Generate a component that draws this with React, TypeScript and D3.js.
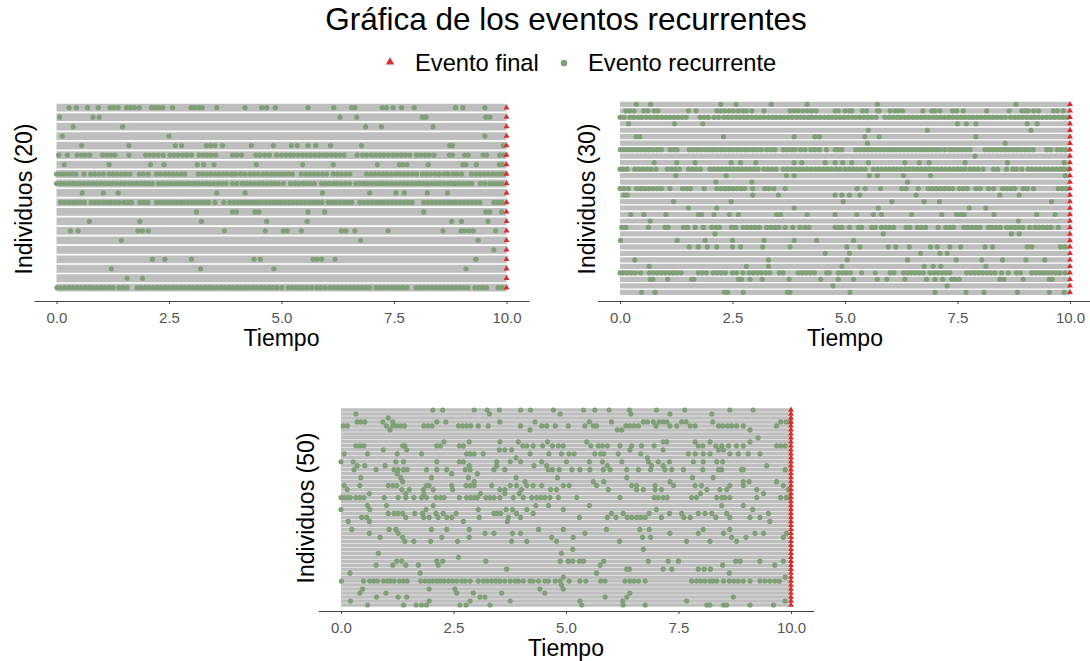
import { useEffect, useRef } from 'react';
import * as d3 from 'd3';

const WIDTH = 1090;
const HEIGHT = 661;

const titulo = 'Gráfica de los eventos recurrentes';
const leyenda = ['Evento final', 'Evento recurrente'];
const xTicks = [0, 2.5, 5, 7.5, 10];
const tiempoFinal = 10;

// Recurrent event times per individual (top row first)
const eventos20 = [
  [0.28, 0.44, 0.69, 0.93, 1.19, 1.27, 1.37, 1.56, 1.64, 1.73, 1.84, 2.11, 2.19, 2.27, 2.36, 2.58, 2.99, 3.07, 3.16, 3.24, 3.56, 4.19, 4.56, 4.67, 4.86, 5.59, 6.16, 6.56, 6.63, 7.24, 7.33, 7.48, 7.67, 7.95, 8.87, 9.03, 9.52],
  [0.07, 0.81, 0.95, 6.3, 6.67, 8.13, 8.21, 9.54, 9.63],
  [0.37, 1.47, 6.87, 7.22, 8.37],
  [0.13, 2.5, 9.52],
  [0.56, 1.61, 2.64, 2.78, 3.33, 3.42, 3.52, 3.69, 4.33, 4.82, 5.22, 5.35, 5.59, 5.76, 6.09, 6.78, 8.74, 8.8, 9.93],
  [0.05, 0.24, 0.46, 0.56, 0.64, 0.74, 1.02, 1.11, 1.21, 1.3, 1.61, 1.98, 2.07, 2.16, 2.26, 2.37, 2.52, 2.61, 2.7, 2.8, 2.89, 3.0, 3.17, 3.26, 3.35, 3.44, 3.54, 3.91, 4.0, 4.11, 4.43, 4.52, 4.63, 4.73, 4.89, 5.0, 5.1, 5.19, 5.27, 5.37, 5.47, 5.56, 5.64, 5.74, 5.84, 5.93, 6.01, 6.11, 6.21, 6.3, 6.39, 6.68, 6.8, 6.89, 7.0, 7.1, 7.19, 7.27, 7.37, 7.48, 7.57, 7.67, 7.76, 7.85, 8.0, 8.09, 8.19, 8.28, 8.39, 8.73, 8.8, 9.07, 9.15, 9.48, 9.56, 9.85, 9.93],
  [0.17, 1.17, 2.09, 2.39, 3.13, 3.27, 3.5, 4.44, 5.47, 6.15, 7.13, 7.62, 7.7, 7.79, 8.26, 9.03, 9.1, 9.33, 9.84, 9.91],
  [0.0, 0.07, 0.16, 0.26, 0.35, 0.43, 0.61, 0.76, 0.85, 0.95, 1.04, 1.17, 1.26, 1.35, 1.44, 1.54, 1.63, 1.84, 1.93, 2.04, 2.22, 2.31, 2.41, 2.5, 2.59, 2.68, 2.78, 2.85, 3.15, 3.24, 3.33, 3.42, 3.52, 3.61, 3.7, 3.79, 3.89, 3.98, 4.09, 4.19, 4.3, 4.39, 4.48, 4.59, 4.68, 4.78, 4.87, 4.96, 5.05, 5.15, 5.24, 5.44, 5.54, 5.63, 5.72, 5.81, 5.91, 6.0, 6.15, 6.24, 6.33, 6.43, 6.52, 6.89, 6.98, 7.07, 7.17, 7.26, 7.35, 7.44, 7.54, 7.63, 7.72, 7.81, 7.91, 8.0, 8.13, 8.22, 8.31, 8.41, 8.5, 8.61, 8.7, 8.81, 8.9, 9.0, 9.22, 9.32, 9.41, 9.5, 9.59, 9.69, 9.78, 9.87, 9.93],
  [0.0, 0.09, 0.18, 0.27, 0.36, 0.44, 0.53, 0.62, 0.71, 0.8, 0.89, 0.98, 1.07, 1.16, 1.24, 1.33, 1.42, 1.51, 1.6, 1.69, 1.78, 1.87, 1.96, 2.04, 2.13, 2.26, 2.35, 2.44, 2.53, 2.61, 2.7, 2.79, 2.88, 2.97, 3.06, 3.15, 3.24, 3.33, 3.41, 3.5, 3.59, 3.68, 3.77, 3.91, 4.01, 4.13, 4.22, 4.31, 4.4, 4.49, 4.58, 4.67, 4.76, 4.84, 4.93, 5.04, 5.2, 5.29, 5.38, 5.47, 5.56, 5.64, 5.73, 5.89, 5.98, 6.07, 6.16, 6.24, 6.33, 6.42, 6.51, 6.65, 6.74, 6.83, 6.92, 7.01, 7.1, 7.19, 7.27, 7.36, 7.45, 7.54, 7.63, 7.72, 7.81, 7.9, 7.99, 8.07, 8.16, 8.25, 8.34, 8.43, 8.52, 8.61, 8.7, 8.79, 8.87, 8.96, 9.05, 9.14, 9.23, 9.42, 9.52, 9.63, 9.72, 9.81, 9.9],
  [0.57, 1.04, 1.37, 3.56, 4.19, 5.91, 6.96, 7.54, 7.73, 8.24, 8.69],
  [0.09, 0.18, 0.27, 0.36, 0.44, 0.53, 0.62, 0.77, 0.86, 0.95, 1.04, 1.13, 1.21, 1.3, 1.39, 1.5, 1.59, 1.67, 1.85, 1.94, 2.03, 2.22, 2.31, 2.4, 2.49, 2.58, 2.67, 2.76, 2.84, 2.93, 3.02, 3.11, 3.2, 3.29, 3.38, 3.52, 3.72, 3.85, 3.94, 4.03, 4.12, 4.21, 4.3, 4.39, 4.47, 4.56, 4.65, 4.74, 4.83, 4.92, 4.99, 5.08, 5.17, 5.26, 5.35, 5.44, 5.53, 5.63, 5.72, 5.81, 5.9, 6.04, 6.13, 6.21, 6.3, 6.39, 6.47, 6.56, 6.74, 6.83, 6.92, 7.01, 7.1, 7.19, 7.27, 7.36, 7.45, 7.54, 7.63, 7.72, 7.81, 7.9, 8.16, 8.25, 8.34, 8.43, 8.52, 8.61, 8.7, 8.79, 8.87, 8.96, 9.05, 9.14, 9.23, 9.32, 9.41, 9.72, 9.81, 9.9],
  [3.11, 3.91, 4.0, 4.41, 4.5, 5.59, 5.96, 8.16, 9.54, 9.63, 9.89],
  [0.73, 1.85, 3.22, 4.67, 5.57, 8.78, 9.0, 9.59],
  [0.31, 0.48, 1.81, 1.91, 2.04, 3.73, 4.64, 5.04, 5.13, 5.44, 6.33, 6.43, 6.63, 7.37, 8.59, 8.99, 9.07, 9.17, 9.26, 9.76],
  [1.44, 6.76, 9.37],
  [9.72],
  [2.13, 2.41, 3.0, 4.39, 4.53, 5.7, 5.79, 5.89, 6.19, 9.32],
  [1.22, 3.2, 4.83, 9.1],
  [1.57, 1.91],
  [0.01, 0.1, 0.19, 0.28, 0.37, 0.46, 0.55, 0.64, 0.73, 0.81, 0.9, 0.99, 1.08, 1.17, 1.26, 1.39, 1.48, 1.57, 1.79, 1.87, 1.96, 2.05, 2.14, 2.23, 2.32, 2.41, 2.5, 2.59, 2.67, 2.76, 2.85, 2.94, 3.03, 3.12, 3.21, 3.3, 3.39, 3.47, 3.56, 3.65, 3.74, 3.83, 3.92, 4.01, 4.1, 4.19, 4.27, 4.36, 4.45, 4.54, 4.63, 4.72, 4.81, 4.9, 5.01, 5.15, 5.24, 5.33, 5.41, 5.48, 5.57, 5.67, 5.78, 5.87, 5.96, 6.07, 6.16, 6.25, 6.34, 6.43, 6.52, 6.61, 6.7, 6.79, 6.87, 6.96, 7.1, 7.19, 7.27, 7.36, 7.45, 7.52, 7.61, 7.7, 7.79, 7.99, 8.07, 8.16, 8.25, 8.34, 8.43, 8.52, 8.61, 8.7, 8.79, 8.87, 8.96, 9.05, 9.14, 9.3, 9.39, 9.47, 9.56, 9.81, 9.9],
];

const eventos30 = [
  [0.36, 0.68, 2.24, 2.58, 3.36, 4.16, 5.72, 8.8],
  [0.13, 0.22, 0.31, 0.53, 0.62, 0.76, 0.84, 1.52, 1.69, 2.15, 2.24, 2.33, 2.43, 2.52, 2.63, 2.73, 2.81, 2.93, 3.2, 3.78, 3.87, 3.96, 4.06, 4.16, 4.26, 4.36, 4.78, 4.85, 5.0, 5.1, 5.15, 5.39, 5.48, 5.72, 5.76, 6.0, 6.11, 6.19, 6.28, 6.73, 6.93, 7.0, 7.11, 7.39, 7.48, 7.63, 8.15, 8.65, 8.93, 9.0, 9.07, 9.19, 9.3, 9.63, 9.72, 9.85],
  [0.0, 0.09, 0.22, 0.31, 0.41, 0.48, 0.58, 0.67, 0.76, 0.84, 0.93, 1.02, 1.11, 1.2, 1.29, 1.38, 1.47, 1.78, 1.87, 1.96, 2.09, 2.19, 2.31, 2.4, 2.49, 2.58, 2.67, 2.76, 2.84, 2.93, 3.02, 3.11, 3.2, 3.3, 3.39, 3.47, 3.56, 3.65, 3.74, 3.83, 3.92, 4.01, 4.1, 4.19, 4.27, 4.36, 4.45, 4.54, 4.63, 4.71, 4.8, 4.89, 4.98, 5.07, 5.16, 5.24, 5.33, 5.42, 5.51, 5.6, 5.69, 5.89, 5.98, 6.07, 6.16, 6.24, 6.33, 6.42, 6.51, 6.6, 6.69, 6.78, 6.87, 6.96, 7.04, 7.13, 7.22, 7.31, 7.4, 7.49, 7.58, 7.67, 7.76, 7.84, 7.93, 8.02, 8.11, 8.2, 8.29, 8.38, 8.47, 8.56, 8.68, 8.77, 8.86, 8.95, 9.04, 9.13, 9.21, 9.3, 9.39, 9.48, 9.57, 9.66, 9.75, 9.84, 9.93],
  [0.19, 1.21, 1.84, 7.5, 7.7, 7.91, 9.05, 9.27],
  [5.52, 6.83, 9.13],
  [0.36, 0.44, 2.3, 3.87, 4.33, 4.43, 5.44, 5.76, 7.91],
  [5.5, 8.56],
  [0.01, 0.1, 0.19, 0.28, 0.37, 0.46, 0.55, 0.64, 0.73, 0.83, 0.92, 1.11, 1.2, 1.27, 1.54, 1.63, 1.72, 1.81, 1.9, 1.99, 2.07, 2.16, 2.25, 2.34, 2.43, 2.52, 2.61, 2.7, 2.79, 2.87, 2.96, 3.05, 3.14, 3.26, 3.35, 3.44, 3.63, 3.72, 3.81, 3.89, 4.01, 4.11, 4.24, 4.33, 4.43, 4.59, 4.78, 4.85, 4.93, 5.24, 5.33, 5.42, 5.51, 5.6, 5.69, 5.78, 5.87, 5.96, 6.04, 6.13, 6.22, 6.31, 6.4, 6.49, 6.58, 6.67, 6.76, 6.84, 6.93, 7.02, 7.11, 7.22, 7.33, 7.42, 7.51, 7.6, 7.69, 7.78, 8.11, 8.2, 8.29, 8.38, 8.47, 8.56, 8.64, 8.73, 8.82, 8.91, 9.0, 9.09, 9.18, 9.48, 9.57, 9.72, 9.81, 9.9],
  [7.89],
  [0.76, 1.26, 1.67, 2.47, 2.68, 3.02, 3.87, 4.04, 4.56, 4.78, 4.95, 5.15, 5.52, 6.33, 6.65, 6.87, 7.67, 8.61, 9.87],
  [0.0, 0.07, 0.16, 0.33, 0.42, 0.51, 0.6, 0.69, 0.8, 1.05, 1.14, 1.23, 1.32, 1.52, 1.61, 1.7, 1.79, 2.0, 2.09, 2.18, 2.27, 2.36, 2.44, 2.53, 2.62, 2.71, 2.8, 2.89, 2.98, 3.07, 3.2, 3.29, 3.38, 3.47, 3.63, 3.72, 3.81, 3.9, 3.99, 4.07, 4.16, 4.25, 4.34, 4.43, 4.52, 4.61, 4.7, 4.8, 4.89, 5.0, 5.09, 5.18, 5.27, 5.36, 5.45, 5.63, 5.72, 5.81, 5.9, 5.99, 6.07, 6.16, 6.25, 6.34, 6.43, 6.52, 6.61, 6.7, 6.79, 6.87, 6.96, 7.05, 7.14, 7.23, 7.32, 7.41, 7.5, 7.58, 7.67, 7.78, 7.87, 7.96, 8.07, 8.3, 8.39, 8.59, 8.73, 8.81, 8.93, 9.07, 9.16, 9.25, 9.34, 9.43, 9.52, 9.61, 9.7, 9.79, 9.87, 9.96],
  [1.24, 2.36, 3.7, 3.87, 5.54, 5.72, 6.3, 6.9, 9.89],
  [2.13, 2.93, 6.39],
  [0.0, 0.09, 0.19, 0.37, 0.46, 0.55, 0.64, 0.73, 0.83, 0.92, 1.11, 1.39, 1.48, 1.57, 1.87, 2.15, 2.24, 2.33, 2.41, 2.5, 2.59, 2.68, 2.77, 2.95, 3.22, 3.31, 3.42, 3.67, 5.27, 5.45, 5.79, 6.26, 6.36, 6.63, 6.85, 6.94, 7.03, 7.12, 7.21, 7.3, 7.39, 7.54, 7.63, 7.72, 7.91, 8.0, 8.19, 8.3, 8.5, 8.59, 8.68, 8.77, 8.96, 9.05, 9.19, 9.74, 9.83, 9.92],
  [0.09, 0.16, 2.95, 3.52, 4.78, 4.93, 5.1, 5.33, 6.58, 8.44, 8.87],
  [1.19, 2.47, 4.96, 6.04, 6.76, 7.1, 9.59],
  [1.52, 2.15, 3.87, 5.74, 7.76, 8.13],
  [0.24, 0.53, 1.02, 1.74, 1.81, 2.09, 2.43, 2.63, 3.48, 3.57, 4.16, 4.78, 5.26, 5.63, 5.81, 6.48, 7.15, 7.48, 7.57, 7.65, 8.31, 9.26, 9.67],
  [0.67, 8.85],
  [0.04, 0.13, 0.63, 1.0, 1.07, 1.41, 1.5, 1.67, 1.85, 2.04, 2.13, 2.21, 2.48, 2.57, 2.74, 2.83, 2.92, 3.01, 3.1, 3.26, 3.35, 3.44, 3.53, 3.67, 3.84, 4.0, 4.11, 4.2, 4.78, 4.85, 4.93, 5.1, 5.3, 5.37, 5.59, 5.67, 5.81, 5.9, 5.99, 6.08, 6.36, 6.44, 6.61, 6.7, 6.79, 7.07, 7.24, 7.33, 7.41, 7.64, 7.73, 7.82, 7.91, 8.0, 8.19, 8.27, 8.36, 8.45, 8.59, 8.68, 8.77, 8.86, 8.95, 9.1, 9.22, 9.31, 9.4, 9.49, 9.58, 9.74],
  [2.11, 5.85, 8.7, 8.87],
  [0.01, 1.27, 1.89, 2.5, 3.2, 3.87, 4.37, 5.19],
  [1.54, 1.74, 1.94, 2.15, 2.5, 2.68, 3.17, 3.78, 5.04, 5.33, 5.96, 6.13, 6.43, 6.9, 7.05, 7.33, 7.57, 8.11, 8.28, 9.05, 9.15, 9.79, 9.89],
  [4.56, 5.1, 6.68, 7.11, 7.27],
  [0.33, 3.3, 5.05, 6.39, 7.47, 8.04, 8.5, 9.02, 9.44],
  [0.65, 2.81, 3.3, 4.93, 6.76, 6.96, 7.13, 8.13],
  [0.0, 0.07, 0.16, 0.25, 0.34, 0.46, 0.65, 0.74, 0.83, 0.92, 1.01, 1.1, 1.19, 1.27, 1.36, 1.74, 1.83, 1.92, 2.07, 2.16, 2.25, 2.34, 2.5, 2.59, 2.73, 2.87, 2.96, 3.05, 3.14, 3.24, 3.33, 3.54, 3.63, 3.96, 4.05, 4.14, 4.23, 4.32, 4.59, 4.65, 4.85, 4.94, 5.03, 5.12, 5.37, 5.67, 6.0, 6.09, 6.3, 6.39, 6.47, 6.56, 6.65, 6.74, 6.89, 6.98, 7.07, 7.16, 7.24, 7.33, 7.7, 7.79, 7.88, 7.97, 8.06, 8.15, 8.24, 8.33, 8.48, 8.63, 8.81, 8.9, 9.15, 9.24, 9.33, 9.41, 9.5, 9.59, 9.68, 9.77, 9.89],
  [0.67, 0.73, 1.06, 1.59, 1.64, 2.63, 2.7, 2.89, 3.16, 3.76, 4.46, 4.85, 5.19, 5.72, 5.93, 6.33, 6.81, 7.0, 7.17, 7.37, 7.44, 7.54, 8.44, 8.53, 8.96, 9.54, 9.61],
  [4.73, 7.27],
  [0.48, 0.78, 2.32, 2.39, 2.74, 3.72, 3.78, 5.11, 7.0, 7.69, 8.09, 8.83, 9.54, 9.87],
];

const eventos50 = [
  [2.04, 2.26, 2.96, 3.25, 3.52, 3.99, 4.21, 4.72, 5.39, 5.64, 5.96, 6.41, 7.01, 7.64, 8.64, 9.16],
  [0.33, 3.3, 4.87, 6.44, 7.31, 8.24],
  [1.05],
  [0.36, 0.44, 0.53, 0.93, 1.15, 2.13, 2.33, 3.53, 4.31, 5.52, 6.01, 6.72, 6.81, 6.94, 7.07, 7.16, 7.24, 7.57, 7.67, 8.26, 9.77, 9.89, 9.98],
  [0.05, 0.14, 1.01, 1.15, 1.24, 1.33, 1.41, 1.84, 1.93, 2.02, 2.61, 2.7, 2.79, 2.88, 3.05, 3.27, 3.99, 4.46, 4.57, 4.76, 5.05, 5.42, 5.61, 5.68, 6.33, 6.42, 6.51, 6.61, 7.0, 7.31, 7.46, 7.76, 7.87, 8.39, 8.48, 8.59, 8.68, 8.79, 8.94, 9.68],
  [1.09, 4.2, 6.14, 6.24, 9.09],
  [],
  [9.27],
  [2.29, 2.85, 3.53, 3.94, 4.59, 5.46, 7.16, 7.24, 7.87, 8.2, 9.09],
  [0.33, 0.42, 0.51, 1.37, 1.42, 2.13, 2.21, 2.63, 2.72, 4.04, 4.13, 4.27, 4.48, 4.7, 4.83, 4.94, 5.55, 5.72, 5.81, 5.92, 6.2, 6.46, 6.68, 6.96, 7.94, 8.04, 8.33, 8.46, 8.61, 8.79, 8.94, 9.68, 9.77, 9.87],
  [0.94, 1.46, 3.52, 3.64, 3.79, 6.42, 7.16, 8.39, 8.5],
  [0.07, 0.59, 1.25, 1.79, 2.79, 2.87, 2.96, 3.16, 4.2, 4.62, 4.9, 5.07, 5.18, 5.64, 5.77, 5.84, 6.16, 6.66, 7.72, 7.87, 8.05, 8.2, 8.64, 8.83, 9.05, 9.31],
  [3.89, 6.81],
  [0.0, 0.27, 1.22, 1.39, 2.13, 2.63, 2.72, 3.46, 3.76, 3.99, 4.46, 5.01, 5.52, 5.81, 6.24, 6.83, 7.05, 7.3, 7.83, 8.05, 8.35, 8.48],
  [0.36, 0.53, 0.98, 2.85, 3.46, 4.29, 4.57, 5.92, 6.9, 7.16, 9.46],
  [0.29, 0.78, 1.18, 1.27, 1.39, 1.47, 1.9, 2.13, 2.35, 2.76, 2.87, 3.4, 3.64, 4.61, 4.7, 4.85, 5.13, 5.31, 5.53, 5.83, 5.98, 6.35, 6.61, 6.88, 7.2, 7.35, 7.61, 8.04, 8.39, 8.46, 8.9, 8.94, 9.87],
  [1.25, 2.46, 3.03],
  [0.44, 1.33, 2.01, 2.83, 3.89, 4.81, 6.35, 7.81, 8.27],
  [1.37, 2.96, 4.09, 5.61, 5.84, 7.31, 8.94, 9.07, 9.68],
  [0.07, 0.42, 1.05, 1.15, 1.24, 1.9, 1.96, 2.46, 2.78, 2.87, 2.96, 3.35, 3.76, 3.9, 4.13, 4.27, 4.46, 4.94, 5.07, 5.68, 6.46, 6.57, 6.98, 7.39, 7.87, 8.01, 8.64, 8.94, 9.83],
  [0.14, 1.35, 1.52, 1.83, 2.05, 2.48, 3.53, 3.64, 4.01, 4.66, 4.79, 5.94, 6.57, 6.72, 6.98, 7.12, 8.13, 8.42, 8.57, 9.24, 9.94],
  [0.63, 1.44, 1.84, 3.1, 3.64, 3.96, 7.99, 9.39],
  [0.0, 0.07, 0.14, 0.21, 0.33, 0.42, 0.51, 0.96, 1.27, 1.44, 1.62, 1.79, 1.9, 2.11, 2.21, 2.29, 2.63, 2.79, 2.88, 2.96, 3.03, 3.22, 3.31, 3.4, 3.53, 3.83, 4.05, 4.24, 4.35, 4.44, 4.53, 4.64, 4.83, 5.24, 6.2, 6.96, 7.05, 7.16, 7.25, 7.79, 7.9, 8.35, 8.46, 8.53, 8.64, 9.24, 9.77, 9.89, 9.96],
  [],
  [0.59, 1.01, 2.05, 4.33, 4.61, 5.52, 8.46, 8.94],
  [0.0, 0.64, 1.89, 3.05, 3.67, 3.81, 4.13, 4.94, 7.01, 9.15],
  [1.05, 1.18, 1.27, 1.37, 1.64, 1.81, 2.11, 2.27, 2.56, 3.4, 3.46, 3.55, 3.9, 4.27, 6.01, 6.27, 6.85, 7.3, 7.57, 7.94, 8.09, 8.24, 8.57, 9.5],
  [0.46, 0.57, 1.44, 1.84, 1.96, 2.16, 2.35, 2.46, 3.07, 3.72, 3.99, 5.3, 5.92, 6.11, 6.36, 6.46, 6.57, 6.66, 6.76, 7.12, 7.62, 7.76, 8.33, 8.64, 9.09, 9.31],
  [0.16, 0.63, 2.72, 3.7, 9.53],
  [],
  [0.24, 1.07, 1.22, 2.01, 2.35, 2.85, 4.39, 4.94, 5.9, 6.64, 6.85, 8.05, 8.64],
  [0.63, 1.27, 3.2, 3.4, 3.81, 3.99, 5.42, 7.31, 7.94, 8.5, 9.2, 9.39, 9.9],
  [0.87, 1.37, 2.24, 2.85, 4.68, 5.16, 6.7, 6.88, 8.68, 9.0, 9.83],
  [1.42, 1.62, 1.99, 2.59, 3.79, 4.13, 4.79, 6.19, 7.68, 8.2, 8.79],
  [],
  [5.15, 6.72],
  [0.83, 4.9],
  [2.61],
  [1.24, 1.35, 2.13, 2.26, 3.22, 4.87, 5.05, 5.15, 5.3, 5.39, 5.84, 6.83, 7.27, 7.5, 8.77, 8.87, 9.31, 9.83],
  [0.78, 1.15, 1.44, 1.72, 2.16, 5.76, 8.48, 9.64],
  [3.68, 6.35, 6.41, 7.16, 7.35, 7.94, 8.07, 8.21],
  [0.2, 1.76, 5.68, 8.63],
  [4.94, 9.87],
  [0.01, 0.5, 0.64, 0.73, 0.81, 0.94, 1.03, 1.1, 1.18, 1.3, 1.39, 1.47, 1.77, 1.87, 1.96, 2.04, 2.13, 2.21, 2.29, 2.39, 2.48, 2.57, 2.68, 2.76, 2.87, 3.05, 3.16, 3.25, 3.35, 3.44, 3.53, 3.64, 3.76, 3.87, 3.94, 4.05, 4.2, 4.27, 4.39, 4.53, 4.61, 4.76, 4.87, 5.07, 5.31, 5.44, 5.77, 5.87, 6.31, 6.42, 6.51, 6.61, 6.76, 7.79, 7.9, 7.99, 8.09, 8.2, 8.26, 8.35, 8.5, 8.63, 8.73, 8.83, 8.94, 9.09, 9.31, 9.42, 9.53, 9.64, 9.74],
  [4.9],
  [0.48, 1.96, 2.53, 4.42, 4.94],
  [0.42, 1.0, 2.57, 2.94, 3.57, 4.53, 6.42],
  [0.79, 1.27, 1.46, 3.09, 3.2, 5.87, 6.35, 8.72],
  [0.21, 1.96, 2.87, 3.76, 5.31, 6.26, 7.68, 9.87],
  [0.59, 1.39, 1.67, 1.79, 1.9, 2.64, 2.78, 3.31, 5.35, 6.27, 6.76, 8.13, 8.2, 8.5, 8.57, 9.09, 9.61],
];

// Panel layout (pixels)
const paneles = [
  { datos: eventos20, etiqueta: 'Individuos (20)', x0: 34, x1: 529, yTop: 107.7, yBottom: 287.7, banda: 7.8, eje: 301, tituloX: 31.5, tituloY: 199 },
  { datos: eventos30, etiqueta: 'Individuos (30)', x0: 597.5, x1: 1092.5, yTop: 104.3, yBottom: 292.3, banda: 5.2, eje: 301, tituloX: 594.5, tituloY: 199 },
  { datos: eventos50, etiqueta: 'Individuos (50)', x0: 318.5, x1: 813.5, yTop: 410, yBottom: 605, banda: 3.5, eje: 611, tituloX: 314, tituloY: 508 },
];

const GRIS = '#bebebe';
const VERDE = '#7fa076';
const ROJO = '#dc2b2b';
const FUENTE = '"Liberation Sans", Arial, Helvetica, sans-serif';

const App = () => {
  const svgRef = useRef(null);

  useEffect(() => {
    document.body.style.margin = '0';
    const svg = d3.select(svgRef.current);
    svg.selectAll('*').remove();
    svg.attr('width', WIDTH).attr('height', HEIGHT).style('font-family', FUENTE);

    svg.append('rect').attr('width', WIDTH).attr('height', HEIGHT).attr('fill', 'white');

    // Title
    svg.append('text')
      .attr('x', 566)
      .attr('y', 30)
      .attr('text-anchor', 'middle')
      .style('font-size', '31.5px')
      .attr('fill', 'black')
      .text(titulo);

    // Legend
    const leg = svg.append('g');
    leg.append('path')
      .attr('d', d3.symbol().type(d3.symbolTriangle).size(30)())
      .attr('transform', 'translate(390,62)')
      .attr('fill', ROJO);
    leg.append('text').attr('x', 415).attr('y', 71).style('font-size', '23.7px').text(leyenda[0]);
    leg.append('circle').attr('cx', 564).attr('cy', 63).attr('r', 3.3).attr('fill', VERDE);
    leg.append('text').attr('x', 588).attr('y', 71).style('font-size', '23.7px').text(leyenda[1]);

    paneles.forEach(p => {
      const n = p.datos.length;
      const x = d3.scaleLinear().domain([-0.5, 10.5]).range([p.x0, p.x1]);
      const y = d3.scaleLinear().domain([0, n - 1]).range([p.yTop, p.yBottom]);
      const g = svg.append('g');

      // grey band per individual
      g.selectAll('line.banda')
        .data(p.datos)
        .enter()
        .append('line')
        .attr('class', 'banda')
        .attr('x1', x(0))
        .attr('x2', x(tiempoFinal))
        .attr('y1', (d, i) => y(i))
        .attr('y2', (d, i) => y(i))
        .attr('stroke', GRIS)
        .attr('stroke-width', p.banda);

      // recurrent events
      const puntos = p.datos.flatMap((tiempos, i) => tiempos.map(t => ({ t, i })));
      g.selectAll('circle')
        .data(puntos)
        .enter()
        .append('circle')
        .attr('cx', d => x(d.t))
        .attr('cy', d => y(d.i))
        .attr('r', 2.6)
        .attr('fill', VERDE);

      // final event
      const tri = d3.symbol().type(d3.symbolTriangle).size(15)();
      g.selectAll('path.final')
        .data(p.datos)
        .enter()
        .append('path')
        .attr('class', 'final')
        .attr('d', tri)
        .attr('transform', (d, i) => `translate(${x(tiempoFinal)},${y(i)})`)
        .attr('fill', ROJO);

      // x axis
      const axis = d3.axisBottom(x)
        .tickValues(xTicks)
        .tickFormat(d3.format('.1f'))
        .tickSizeInner(3)
        .tickSizeOuter(0)
        .tickPadding(8);
      const ax = g.append('g').attr('transform', `translate(0,${p.eje})`).call(axis);
      ax.select('.domain').attr('stroke', '#444').attr('stroke-width', 1.1);
      ax.selectAll('.tick line').attr('stroke', '#444');
      ax.selectAll('.tick text')
        .attr('fill', '#555')
        .style('font-size', '15px')
        .style('font-family', FUENTE);

      g.append('text')
        .attr('x', (p.x0 + p.x1) / 2)
        .attr('y', p.eje + 45)
        .attr('text-anchor', 'middle')
        .style('font-size', '23px')
        .text('Tiempo');

      g.append('text')
        .attr('transform', `translate(${p.tituloX},${p.tituloY}) rotate(-90)`)
        .attr('text-anchor', 'middle')
        .style('font-size', '23px')
        .text(p.etiqueta);
    });
  }, []);

  return <svg ref={svgRef} style={{ display: 'block' }}></svg>;
};

export default App;
